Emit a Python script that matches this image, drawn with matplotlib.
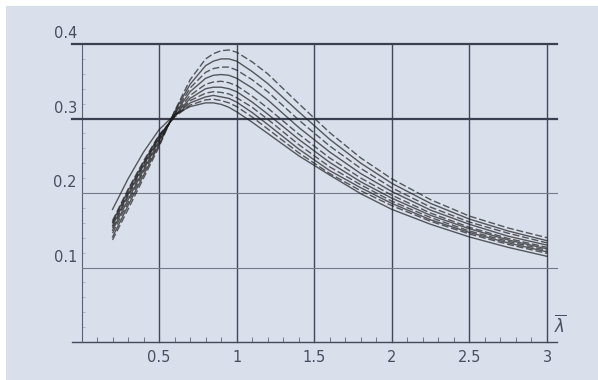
import matplotlib
matplotlib.use("Agg")
import matplotlib.pyplot as plt
from matplotlib.patches import Rectangle

# sample abscissae (lambda-bar)
lam = [0.2, 0.3, 0.4, 0.5, 0.6, 0.7, 0.8, 0.85, 0.9, 0.95, 1.0,
       1.1, 1.2, 1.4, 1.6, 1.8, 2.0, 2.25, 2.5, 2.75, 3.0]

# family of response curves, lowest peak first
curve_01 = [0.178, 0.219, 0.255, 0.285, 0.305, 0.316, 0.321, 0.321, 0.319, 0.315, 0.309,
            0.295, 0.280, 0.250, 0.224, 0.199, 0.178, 0.158, 0.141, 0.127, 0.115]
curve_02 = [0.163, 0.205, 0.243, 0.278, 0.302, 0.318, 0.325, 0.326, 0.324, 0.321, 0.316,
            0.302, 0.286, 0.254, 0.226, 0.203, 0.183, 0.162, 0.145, 0.131, 0.119]
curve_03 = [0.161, 0.203, 0.241, 0.277, 0.303, 0.321, 0.329, 0.331, 0.329, 0.327, 0.322,
            0.308, 0.292, 0.259, 0.230, 0.207, 0.186, 0.164, 0.147, 0.133, 0.121]
curve_04 = [0.159, 0.200, 0.239, 0.275, 0.303, 0.324, 0.334, 0.336, 0.335, 0.333, 0.328,
            0.315, 0.299, 0.265, 0.235, 0.211, 0.189, 0.167, 0.149, 0.135, 0.123]
curve_05 = [0.156, 0.198, 0.237, 0.274, 0.304, 0.327, 0.340, 0.342, 0.342, 0.340, 0.336,
            0.322, 0.306, 0.272, 0.241, 0.215, 0.193, 0.170, 0.152, 0.137, 0.125]
curve_06 = [0.153, 0.195, 0.234, 0.272, 0.305, 0.331, 0.346, 0.349, 0.350, 0.348, 0.344,
            0.330, 0.314, 0.279, 0.247, 0.220, 0.197, 0.173, 0.154, 0.139, 0.127]
curve_07 = [0.150, 0.191, 0.231, 0.270, 0.306, 0.336, 0.354, 0.358, 0.359, 0.358, 0.354,
            0.341, 0.325, 0.288, 0.255, 0.226, 0.202, 0.177, 0.158, 0.142, 0.130]
curve_08 = [0.146, 0.187, 0.228, 0.267, 0.307, 0.341, 0.362, 0.367, 0.369, 0.369, 0.365,
            0.352, 0.336, 0.298, 0.263, 0.233, 0.207, 0.181, 0.161, 0.146, 0.133]
curve_09 = [0.141, 0.183, 0.224, 0.265, 0.309, 0.346, 0.371, 0.377, 0.380, 0.380, 0.377,
            0.363, 0.347, 0.309, 0.272, 0.240, 0.213, 0.186, 0.165, 0.149, 0.136]
curve_10 = [0.137, 0.178, 0.220, 0.262, 0.310, 0.352, 0.380, 0.387, 0.391, 0.392, 0.389,
            0.376, 0.360, 0.320, 0.281, 0.247, 0.219, 0.191, 0.169, 0.153, 0.140]

curves = [curve_01, curve_02, curve_03, curve_04, curve_05,
          curve_06, curve_07, curve_08, curve_09, curve_10]

x_ticks = [0.5, 1, 1.5, 2, 2.5, 3]
x_tick_labels = ["0.5", "1", "1.5", "2", "2.5", "3"]
y_ticks = [0.1, 0.2, 0.3, 0.4]
y_tick_labels = ["0.1", "0.2", "0.3", "0.4"]

BG = "#d9e0ec"
DARK = "#414857"
LABEL = "#474e5e"

W, H = 598, 380
fig = plt.figure(figsize=(W / 100, H / 100), dpi=100, facecolor=BG)

# thin white margin on the top and left edges
fig.patches.append(Rectangle((0, 1 - 6 / H), 1, 6 / H, transform=fig.transFigure,
                             facecolor="white", edgecolor="none", zorder=0))
fig.patches.append(Rectangle((0, 0), 6 / W, 1, transform=fig.transFigure,
                             facecolor="white", edgecolor="none", zorder=0))

x0_px, x3_px, y0_px, y4_px = 81.5, 547.0, 342.0, 44.0
ax = fig.add_axes([x0_px / W, 1 - y0_px / H, (x3_px - x0_px) / W, (y0_px - y4_px) / H])
ax.set_facecolor("none")
ax.set_xlim(0, 3)
ax.set_ylim(0, 0.4)
for s in ax.spines.values():
    s.set_visible(False)

px_x = 3 / (x3_px - x0_px)
px_y = 0.4 / (y0_px - y4_px)
x_left = -9.5 * px_x
x_right = 3 + 9.5 * px_x

# frame and grid
ax.plot([x_left, x_right], [0, 0], color=DARK, lw=1.0, clip_on=False, zorder=2)
ax.plot([0, 0], [0, 0.4], color="#5a6170", lw=0.8, clip_on=False, zorder=2)
for xv in x_ticks:
    ax.plot([xv, xv], [0, 0.4], color=DARK, lw=1.0, clip_on=False, zorder=2)
for yv in y_ticks:
    if yv >= 0.3:
        ax.plot([x_left, x_right], [yv, yv], color="#3a4050", lw=1.6,
                clip_on=False, zorder=2)
    else:
        ax.plot([0, x_right], [yv, yv], color="#737a8a", lw=0.8,
                clip_on=False, zorder=2)

# minor ticks along the axes
ax.set_xticks([i / 10 for i in range(0, 31)], minor=True)
ax.set_yticks([i / 50 for i in range(0, 21)], minor=True)
ax.set_xticks([])
ax.set_yticks([])
ax.tick_params(axis="x", which="minor", direction="in", length=3.5, width=0.7,
               color="#6d7484", labelbottom=False)
ax.tick_params(axis="y", which="minor", direction="in", length=2.0, width=0.5,
               color="#9aa1af", labelleft=False)

# curves
for i, ys in enumerate(curves):
    ls = "-" if i % 2 == 0 else (0, (5, 2))
    ax.plot(lam, ys, color="#1c1c1c", lw=1.0, alpha=0.7, ls=ls,
            zorder=3, clip_on=False)

# tick labels
for xv, lab in zip(x_ticks, x_tick_labels):
    ax.text(xv, -15 * px_y, lab, ha="center", va="center", fontsize=10.5,
            color=LABEL, clip_on=False)
for yv, lab in zip(y_ticks, y_tick_labels):
    ax.text(-4.5 * px_x, yv + 10 * px_y, lab, ha="right", va="center",
            fontsize=10.5, color=LABEL, clip_on=False)

ax.text(3 + 13 * px_x, 17 * px_y, r"$\overline{\lambda}$", ha="center",
        va="center", fontsize=12, color=LABEL, clip_on=False)

fig.savefig("out.png", dpi=100, facecolor=BG)
